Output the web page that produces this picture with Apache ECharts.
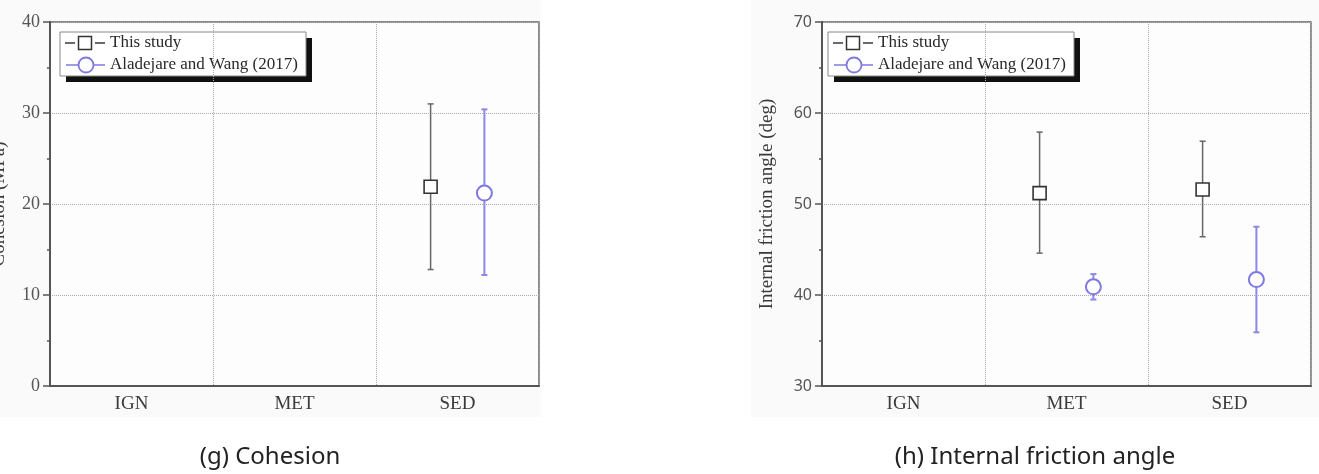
<!DOCTYPE html>
<html>
<head>
<meta charset="utf-8">
<script src="https://cdn.jsdelivr.net/npm/echarts@6/dist/echarts.min.js"></script>
<style>
  html, body { margin: 0; padding: 0; background: #fff; }
  #chart { width: 1319px; height: 474px; }
</style>
</head>
<body>
<div id="chart"></div>
<script>
// categories
var categories = ['IGN', 'MET', 'SED'];

// (g) cohesion, MPa
var cohThisMean = [null, null, 21.9];
var cohThisLow = [null, null, 12.8];
var cohThisHigh = [null, null, 31.0];
var cohAlaMean = [null, null, 21.2];
var cohAlaLow = [null, null, 12.2];
var cohAlaHigh = [null, null, 30.4];

// (h) internal friction angle, deg
var friThisMean = [null, 51.2, 51.6];
var friThisLow = [null, 44.6, 46.4];
var friThisHigh = [null, 57.9, 56.9];
var friAlaMean = [null, 40.9, 41.7];
var friAlaLow = [null, 39.5, 35.9];
var friAlaHigh = [null, 42.3, 47.5];

var legendNames = ['This study', 'Aladejare and Wang (2017)'];
var captions = ['(g) Cohesion', '(h) Internal friction angle'];

var SERIF = '"Liberation Serif", "DejaVu Serif", serif';
var SANS = '"Noto Sans", "Liberation Sans", sans-serif';
var BLUE = '#7d78e2';
var DARK = '#3a3a3a';

// 把均值和上下限拼成 custom 系列需要的数据
function build(mean, low, high) {
	var out = [];
	for (var i = 0; i < mean.length; i++) {
		if (mean[i] == null) continue;
		out.push([i, mean[i], low[i], high[i]]);
	}
	return out;
}

// 误差棒 + 标记
function errorRender(side, kind) {
	return function(params, api) {
		var cat = api.value(0);
		var band = api.size([1, 0])[0];
		var dx = side * band * 0.165;
		var m = api.coord([cat, api.value(1)]);
		var lo = api.coord([cat, api.value(2)]);
		var hi = api.coord([cat, api.value(3)]);
		var x = m[0] + dx;
		var lineColor = kind === 'square' ? '#666' : '#8c88ea';
		var lw = kind === 'square' ? 1.5 : 2;
		var children = [
			{ type: 'line', shape: { x1: x, y1: hi[1], x2: x, y2: lo[1] }, style: { stroke: lineColor, lineWidth: lw } },
			{ type: 'line', shape: { x1: x - 3, y1: hi[1], x2: x + 3, y2: hi[1] }, style: { stroke: lineColor, lineWidth: lw } },
			{ type: 'line', shape: { x1: x - 3, y1: lo[1], x2: x + 3, y2: lo[1] }, style: { stroke: lineColor, lineWidth: lw } }
		];
		if (kind === 'square') {
			children.push({ type: 'rect', shape: { x: x - 6.5, y: m[1] - 6.5, width: 13, height: 13 }, style: { fill: '#fff', stroke: '#333', lineWidth: 1.6 } });
		} else {
			children.push({ type: 'circle', shape: { cx: x, cy: m[1], r: 7.5 }, style: { fill: '#fff', stroke: BLUE, lineWidth: 2 } });
		}
		return { type: 'group', children: children };
	};
}

function makeGrid(left) {
	return {
		left: left, top: 22, width: 489, height: 364,
		outerBoundsMode: 'none', containLabel: false,
		show: true, backgroundColor: '#fdfdfd', borderColor: '#666', borderWidth: 1.5
	};
}

function makeX(idx) {
	return {
		type: 'category', gridIndex: idx, data: categories,
		axisLine: { lineStyle: { color: '#555', width: 2 } },
		axisTick: { show: false },
		axisLabel: { fontFamily: SERIF, fontSize: 19, color: DARK, margin: 9 },
		splitLine: { show: true, lineStyle: { color: '#aaa', type: 'dotted', width: 1 } }
	};
}

function makeY(idx, min, max, name, gap, labelFont, labelSize) {
	return {
		type: 'value', gridIndex: idx, min: min, max: max, interval: 10,
		name: name, nameLocation: 'middle', nameGap: gap, nameRotate: 90,
		nameTextStyle: { fontFamily: SERIF, fontSize: 19, color: DARK },
		axisLine: { show: true, lineStyle: { color: '#555', width: 2 } },
		axisTick: { show: true, inside: false, length: 7, lineStyle: { color: '#555', width: 1.5 } },
		minorTick: { show: true, splitNumber: 2, length: 3, lineStyle: { color: '#555', width: 1.5 } },
		axisLabel: { fontFamily: labelFont, fontSize: labelSize, color: '#555', margin: 10 },
		splitLine: { show: true, lineStyle: { color: '#aaa', type: 'dotted', width: 1 } }
	};
}

// 图例（带黑色阴影的框）
function legendBox(x, y) {
	return {
		type: 'group', x: x, y: y, z: 100,
		children: [
			{ type: 'rect', shape: { x: 6, y: 6, width: 246, height: 44 }, style: { fill: '#111' } },
			{ type: 'rect', shape: { x: 0, y: 0, width: 246, height: 44 }, style: { fill: '#fff', stroke: '#888', lineWidth: 1 } },
			{ type: 'line', shape: { x1: 5, y1: 11, x2: 15, y2: 11 }, style: { stroke: DARK, lineWidth: 1.5 } },
			{ type: 'line', shape: { x1: 35, y1: 11, x2: 45, y2: 11 }, style: { stroke: DARK, lineWidth: 1.5 } },
			{ type: 'rect', shape: { x: 18.5, y: 4.5, width: 13, height: 13 }, style: { fill: '#fff', stroke: '#333', lineWidth: 1.5 } },
			{ type: 'text', x: 50, y: 11, style: { text: legendNames[0], font: '17px ' + SERIF, fill: '#2a2a2a', verticalAlign: 'middle' } },
			{ type: 'line', shape: { x1: 6, y1: 33, x2: 45, y2: 33 }, style: { stroke: BLUE, lineWidth: 1.5 } },
			{ type: 'circle', shape: { cx: 26, cy: 33, r: 7.5 }, style: { fill: '#fff', stroke: BLUE, lineWidth: 1.8 } },
			{ type: 'text', x: 50, y: 33, style: { text: legendNames[1], font: '17px ' + SERIF, fill: '#2a2a2a', verticalAlign: 'middle' } }
		]
	};
}

var myChart = echarts.init(document.getElementById('chart'));
var option = {
	backgroundColor: '#fff',
	animation: false,
	grid: [makeGrid(50), makeGrid(822)],
	xAxis: [makeX(0), makeX(1)],
	yAxis: [
		makeY(0, 0, 40, 'Cohesion (MPa)', 41, SERIF, 18),
		makeY(1, 30, 70, 'Internal friction angle (deg)', 45, SANS, 16)
	],
	graphic: [
		{ type: 'rect', z: -10, shape: { x: 0, y: 0, width: 541, height: 417 }, style: { fill: '#fafafa' } },
		{ type: 'rect', z: -10, shape: { x: 751, y: 0, width: 568, height: 417 }, style: { fill: '#fafafa' } },
		legendBox(60, 32),
		legendBox(828, 32),
		{ type: 'text', x: 270, y: 457, style: { text: captions[0], font: '24px ' + SANS, fill: '#222', align: 'center', verticalAlign: 'middle' } },
		{ type: 'text', x: 1035, y: 457, style: { text: captions[1], font: '24px ' + SANS, fill: '#222', align: 'center', verticalAlign: 'middle' } }
	],
	series: [
		{ type: 'custom', name: legendNames[0], xAxisIndex: 0, yAxisIndex: 0, renderItem: errorRender(-1, 'square'), encode: { x: 0, y: [1, 2, 3] }, data: build(cohThisMean, cohThisLow, cohThisHigh) },
		{ type: 'custom', name: legendNames[1], xAxisIndex: 0, yAxisIndex: 0, renderItem: errorRender(1, 'circle'), encode: { x: 0, y: [1, 2, 3] }, data: build(cohAlaMean, cohAlaLow, cohAlaHigh) },
		{ type: 'custom', name: legendNames[0], xAxisIndex: 1, yAxisIndex: 1, renderItem: errorRender(-1, 'square'), encode: { x: 0, y: [1, 2, 3] }, data: build(friThisMean, friThisLow, friThisHigh) },
		{ type: 'custom', name: legendNames[1], xAxisIndex: 1, yAxisIndex: 1, renderItem: errorRender(1, 'circle'), encode: { x: 0, y: [1, 2, 3] }, data: build(friAlaMean, friAlaLow, friAlaHigh) }
	]
};
myChart.setOption(option);
</script>
</body>
</html>
